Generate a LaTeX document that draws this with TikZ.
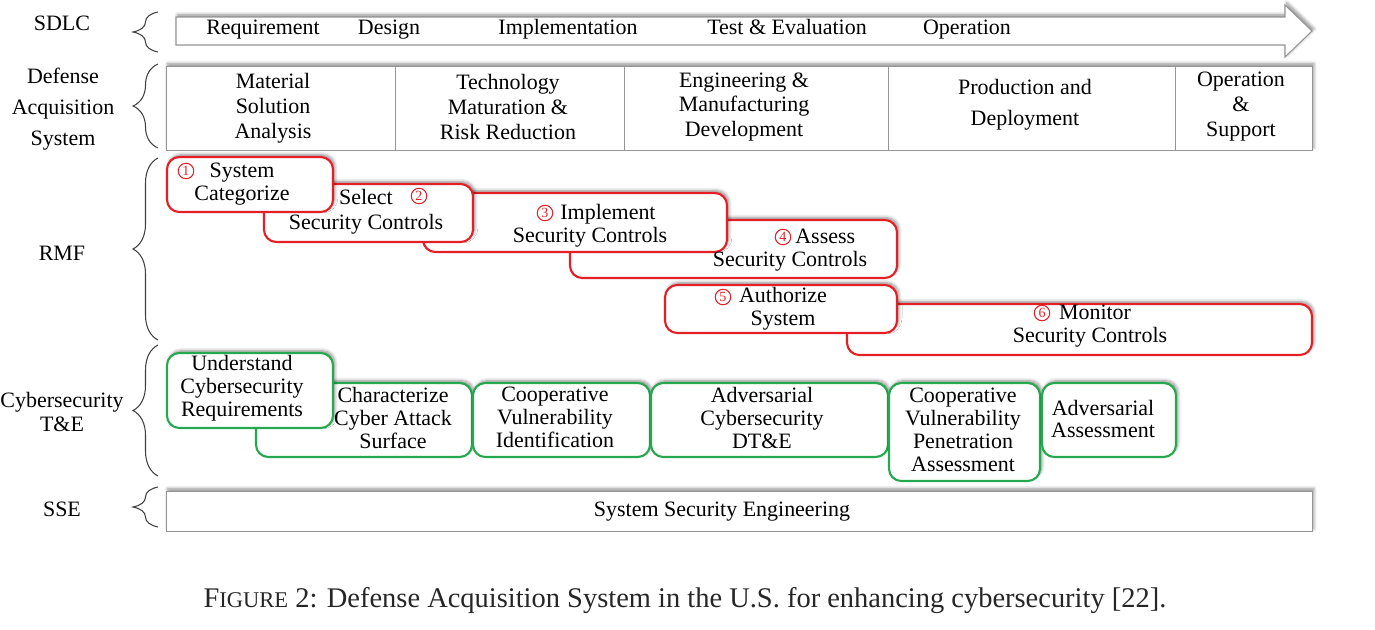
\documentclass[tikz,border=0pt]{standalone}
\usepackage{fontspec}
\setmainfont{Liberation Serif}
\usetikzlibrary{positioning,fit,shadows,shadows.blur,decorations.pathreplacing}

\definecolor{rmfred}{RGB}{228,32,38}
\definecolor{tegreen}{RGB}{38,168,78}
\definecolor{framegray}{RGB}{150,150,150}

\begin{document}
\begin{tikzpicture}[x=0.02cm, y=-0.02cm,
    txt/.style={align=center, font=\fontsize{12.5}{13}\selectfont, inner sep=0pt},
    widetxt/.style={txt, font=\fontsize{12.5}{14.2}\selectfont},
    phasebox/.style={rectangle, draw=framegray, line width=0.5pt, fill=white, inner sep=0pt},
    shade/.style={blur shadow={shadow xshift=1pt, shadow yshift=1.3pt, shadow blur steps=6, shadow opacity=45}},
    redbox/.style={rectangle, rounded corners=7pt, draw=rmfred, line width=1.2pt, fill=white, inner sep=0pt, shade},
    greenbox/.style={redbox, draw=tegreen},
    stepnum/.style={circle, draw=rmfred, text=rmfred, line width=0.6pt, inner sep=0pt, minimum size=0.31cm, font=\fontsize{8}{8}\selectfont},
    lbrace/.style={decorate, decoration={brace, amplitude=0.5cm}, draw=black!75, line width=0.6pt}
]
\useasboundingbox (0,0) rectangle (1375,629);

% Row labels
\node[txt] (sdlc) at (62,23) {SDLC};
\node[txt, font=\fontsize{12.5}{17.6}\selectfont] (das) at (63,109) {Defense\\Acquisition\\System};
\node[txt] (rmf) at (62,253) {RMF};
\node[widetxt] (cte) at (62,412) {Cybersecurity\\T\&E};
\node[txt] (sselabel) at (62,509) {SSE};

% Braces
\draw[lbrace] (158,52) -- (158,12);
\draw[lbrace] (158,148) -- (158,64);
\draw[lbrace] (158,340) -- (158,158);
\draw[lbrace] (158,476) -- (158,345);
\draw[lbrace] (158,527) -- (158,487);

% SDLC arrow
\draw[draw=framegray, line width=0.6pt, fill=white, shade]
    (176,17) -- (1285,17) -- (1285,5) -- (1312,31) -- (1285,57) -- (1285,45) -- (176,45) -- cycle;
\node[txt, anchor=base] (req) at (263,34) {Requirement};
\node[txt, anchor=base] (des) at (389,34) {Design};
\node[txt, anchor=base] (impl) at (568,34) {Implementation};
\node[txt, anchor=base] (test) at (787,34) {Test \& Evaluation};
\node[txt, anchor=base] (oper) at (967,34) {Operation};

% Defense Acquisition System
\node[phasebox, shade, fit={(166,66) (1312,150)}] (acqrow) {};
\node[phasebox, fit={(166,66) (395,150)}] (msa) {};
\node[phasebox, fit={(395,66) (624,150)}] (tmrr) {};
\node[phasebox, fit={(624,66) (888,150)}] (emd) {};
\node[phasebox, fit={(888,66) (1175,150)}] (pd) {};
\node[phasebox, fit={(1175,66) (1312,150)}] (os) {};
\node[widetxt] (msatext) at (273,108) {Material\\Solution\\Analysis};
\node[widetxt] (tmrrtext) at (508,107) {Technology\\Maturation \&\\Risk Reduction};
\node[widetxt] (emdtext) at (744,107) {Engineering \&\\Manufacturing\\Development};
\node[txt, font=\fontsize{12.5}{17.6}\selectfont] (pdtext) at (1025,105) {Production and\\Deployment};
\node[widetxt] (ostext) at (1241,107) {Operation\\\&\\Support};

% RMF steps
\node[redbox, fit={(847,304) (1312,355)}] (monitor) {};
\node[redbox, fit={(665,285) (897,333)}] (authorize) {};
\node[redbox, fit={(570,220) (897,278)}] (assess) {};
\node[redbox, fit={(423,193) (727,252)}] (implement) {};
\node[redbox, fit={(264,184) (473,242)}] (select) {};
\node[redbox, fit={(167,157) (333,212)}] (categorize) {};

\node[txt] (t1) at (242,184) {System\\Categorize};
\node[widetxt] (t2) at (366,212) {Select\\Security Controls};
\node[txt] (t3) at (590,226) {\hspace*{0.72cm}Implement\\Security Controls};
\node[txt, align=right] (t4) at (790,250) {Assess\hspace*{0.24cm}\\Security Controls};
\node[txt] (t5) at (783,309) {Authorize\\System};
\node[txt] (t6) at (1090,326) {\hspace*{0.2cm}Monitor\\Security Controls};

\node[stepnum] (n1) at (186,171) {1};
\node[stepnum] (n2) at (419,196) {2};
\node[stepnum] (n3) at (545,213) {3};
\node[stepnum] (n4) at (783,237) {4};
\node[stepnum] (n5) at (723,297) {5};
\node[stepnum] (n6) at (1042,313) {6};

% Cybersecurity T&E
\node[greenbox, fit={(256,383) (472,457)}] (attack) {};
\node[greenbox, fit={(167,353) (333,428)}] (understand) {};
\node[greenbox, fit={(473,383) (650,457)}] (coopvi) {};
\node[greenbox, fit={(651,383) (888,457)}] (advdte) {};
\node[greenbox, fit={(889,383) (1040,481)}] (coopvpa) {};
\node[greenbox, fit={(1042,383) (1176,457)}] (advassess) {};

\node[txt] (g1) at (242,388) {Understand\\Cybersecurity\\Requirements};
\node[txt] (g2) at (393,418) {Characterize\\Cyber Attack\\Surface};
\node[txt] (g3) at (555,417) {Cooperative\\Vulnerability\\Identification};
\node[txt] (g4) at (762,418) {Adversarial\\Cybersecurity\\DT\&E};
\node[txt] (g5) at (963,430) {Cooperative\\Vulnerability\\Penetration\\Assessment};
\node[txt] (g6) at (1103,419) {Adversarial\\Assessment};

% SSE
\node[phasebox, shade, fit={(166,491) (1312,531)}] (sse) {};
\node[txt] (ssetext) at (722,512) {System Security Engineering};

% Caption
\node[font=\fontsize{16.2}{18}\selectfont, text=black!85, inner sep=0pt] (caption) at (685,601)
    {F{\fontsize{12.8}{15}\selectfont IGURE} 2: Defense Acquisition System in the U.S. for enhancing cybersecurity [22].};

\end{tikzpicture}
\end{document}
